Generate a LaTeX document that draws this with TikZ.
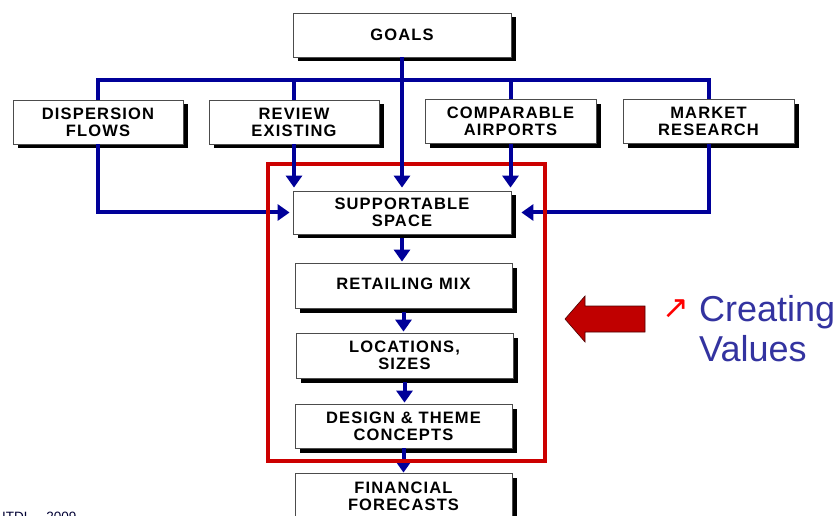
\documentclass[tikz,border=0pt]{standalone}
\usepackage{fontspec}
\setmainfont{Liberation Sans}
\newfontfamily\boxfont[LetterSpace=7]{Liberation Sans}
\newfontfamily\symfont{DejaVu Sans}
\usetikzlibrary{arrows.meta,shadows}
\definecolor{lineblue}{RGB}{0,0,153}
\definecolor{framered}{RGB}{204,0,0}
\definecolor{bigred}{RGB}{192,0,0}
\definecolor{txtblue}{RGB}{51,51,160}
\tikzset{
  stepbox/.style={draw=black!70, line width=0.8pt, fill=white,
    minimum width=218pt, minimum height=44pt, inner sep=0pt, align=center,
    font=\boxfont\bfseries\fontsize{16.5pt}{17pt}\selectfont,
    drop shadow={shadow xshift=4.5pt, shadow yshift=-4.5pt, fill=black, opacity=1}},
  bl/.style={draw=lineblue, line width=4pt},
  blarrow/.style={bl, -{Triangle[width=16pt,length=12pt]}},
  frame/.style={draw=framered, line width=4pt},
}
\begin{document}
\begin{tikzpicture}[x=1pt,y=-1pt]
\useasboundingbox (0,0) rectangle (839,516);
\clip (0,0) rectangle (839,516);
\fill[white] (0,0) rectangle (839,516);

% boxes
\node[stepbox] (goals) at (402,35) {GOALS};
\node[stepbox, minimum width=170pt] (disp) at (98,122) {DISPERSION\\FLOWS};
\node[stepbox, minimum width=170pt] (review) at (294,122) {REVIEW\\EXISTING};
\node[stepbox, minimum width=171pt] (comp) at (510.5,121.5) {COMPARABLE\\AIRPORTS};
\node[stepbox, minimum width=171pt] (market) at (708.5,121.5) {MARKET\\RESEARCH};
\node[stepbox, minimum height=43pt] (supp) at (402,212.5) {SUPPORTABLE\\SPACE};
\node[stepbox, minimum width=217pt, minimum height=45pt] (retail) at (403.5,285.5) {\raisebox{3.5pt}{RETAILING MIX}};
\node[stepbox, minimum width=217pt, minimum height=45pt] (loc) at (404.5,355.5) {LOCATIONS,\\SIZES};
\node[stepbox, minimum width=217pt, minimum height=44pt] (design) at (403.5,426) {DESIGN \& THEME\\CONCEPTS};
\node[stepbox, minimum width=217pt, minimum height=46pt] (fin) at (403.5,496) {FINANCIAL\\FORECASTS};

% bus line from goals
\coordinate (bus) at (0,80);
\draw[bl] (disp.north) -- (disp.north |- bus) -- (market.north |- bus) -- (market.north);
\draw[bl] (review.north) -- (review.north |- bus);
\draw[bl] (comp.north) -- (comp.north |- bus);

% side connectors (under the frame)
\draw[blarrow, shorten >=3pt] (disp.south) |- (supp.west);
\draw[blarrow] (market.south) |- ([xshift=10pt]supp.east);
\draw[blarrow] (design.south) -- (fin.north);

% red frame
\node[frame, minimum width=277pt, minimum height=297pt, inner sep=0pt] (frm) at (406.5,312.5) {};

% top arrows (over the frame)
\draw[blarrow, shorten >=3pt] (goals.south) -- (supp.north);
\draw[blarrow, shorten >=3pt] (review.south) -- (review.south |- supp.north);
\draw[blarrow, shorten >=3pt] (comp.south) -- (comp.south |- supp.north);

% chain arrows
\draw[blarrow, shorten <=4pt, shorten >=1pt] (supp.south) -- (supp.south |- retail.north);
\draw[blarrow, shorten <=4pt, shorten >=1pt] (retail.south) -- (retail.south |- loc.north);
\draw[blarrow, shorten <=4pt, shorten >=1pt] (loc.south) -- (loc.south |- design.north);

% big red arrow
\fill[bigred, draw=black!60!bigred, line width=0.6pt]
  (565,319) -- (585,296) -- (585,306) -- (645,306) -- (645,332) -- (585,332) -- (585,342) -- cycle;

% text on the right
\node[text=red, font=\symfont\fontsize{32pt}{32pt}\selectfont, inner sep=0pt] (sym) at (676,309) {↗};
\node[text=txtblue, font=\fontsize{36pt}{40pt}\selectfont, align=left, anchor=north west, inner sep=0pt] (cv) at (699,295) {Creating\\Values};

% footer (cut off at the page edge, as in the original)
\node[text=black!80!blue, font=\fontsize{13.5pt}{14pt}\selectfont, anchor=base west, inner sep=0pt] (foot) at (2,521) {ITDL – 2009};
\end{tikzpicture}
\end{document}
